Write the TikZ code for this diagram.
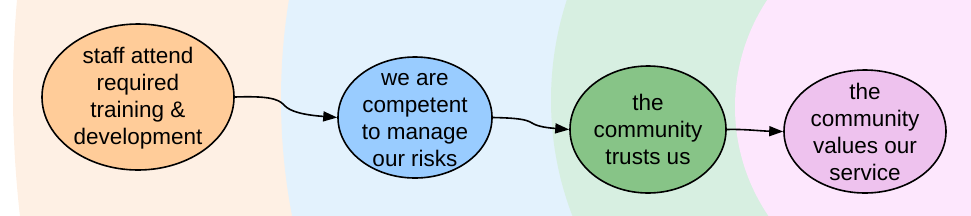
\documentclass[tikz,border=0pt]{standalone}
\usepackage{fontspec}
\setmainfont{Liberation Sans}
\usetikzlibrary{arrows.meta,shapes.geometric}
\definecolor{bgpeach}{HTML}{FEF0E4}
\definecolor{bgblue}{HTML}{E3F2FD}
\definecolor{bggreen}{HTML}{D7EFE1}
\definecolor{bgpink}{HTML}{FDE7FD}
\definecolor{fillorange}{HTML}{FFCC99}
\definecolor{fillblue}{HTML}{99CCFF}
\definecolor{fillgreen}{HTML}{87C487}
\definecolor{fillpink}{HTML}{EEC2EE}
\newcommand{\bubtext}[1]{\rule{0pt}{19pt}#1\rule[-3pt]{0pt}{3pt}}
\begin{document}
\begin{tikzpicture}[x=1pt,y=-1pt,
  bubble/.style={ellipse, draw=black, line width=1.6pt, inner sep=0pt},
  lbl/.style={align=center, inner sep=0pt, font=\fontsize{22.5}{27}\selectfont},
  conn/.style={draw=black, line width=1.6pt, -{Triangle[length=14pt,width=10pt]}}]
\useasboundingbox (0,0) rectangle (971,215);
\begin{scope}
\clip (0,0) rectangle (971,215);
\fill[bgpeach] (1087,93) circle[radius=1074];
\fill[bgblue] (898,99) circle[radius=617];
\fill[bggreen] (874,100) circle[radius=323];
\fill[bgpink] (929,107) circle[radius=194];
\end{scope}
\node[bubble, fill=fillorange, minimum width=192pt, minimum height=146pt,
  label={[lbl]center:{\bubtext{staff attend\\required\\training \&\\development}}}] (a) at (138,97) {};
\node[bubble, fill=fillblue, minimum width=154pt, minimum height=121pt,
  label={[lbl]center:{\bubtext{we are\\competent\\to manage\\our risks}}}] (b) at (415,117.5) {};
\node[bubble, fill=fillgreen, minimum width=156pt, minimum height=127pt,
  label={[lbl]center:{\bubtext{the\\community\\trusts us}}}] (c) at (648,129.5) {};
\node[bubble, fill=fillpink, minimum width=162pt, minimum height=123pt,
  label={[lbl]center:{\bubtext{the\\community\\values our\\service}}}] (d) at (865,131.5) {};
\draw[conn] (a.east) .. controls (265,96) and (278,98) .. (284,105) .. controls (290,112) and (305,115) .. (b.west);
\draw[conn] (b.east) .. controls (515,118) and (526,119) .. (532,123) .. controls (538,127) and (550,128) .. (c.west);
\draw[conn] (c.east) .. controls (745,129) and (760,131) .. (d.west);
\end{tikzpicture}
\end{document}
